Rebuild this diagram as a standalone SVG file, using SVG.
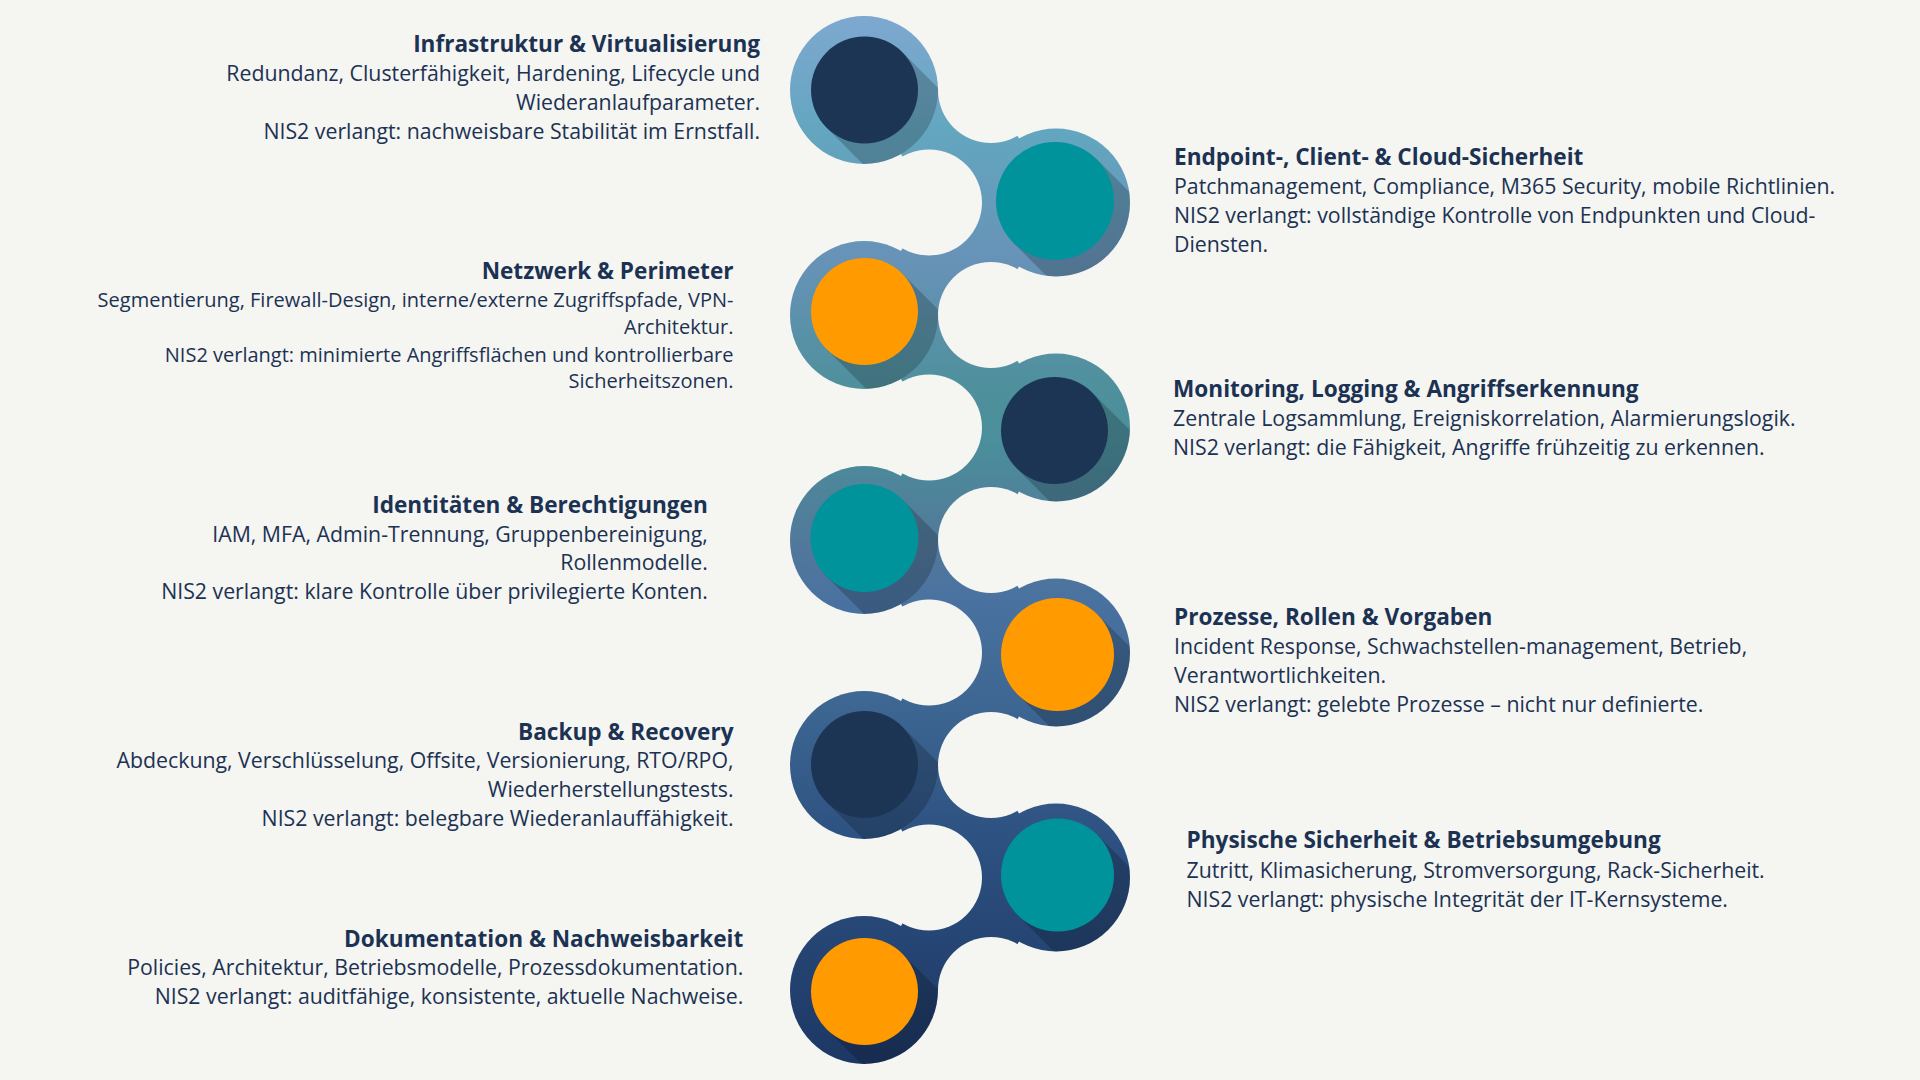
<svg xmlns="http://www.w3.org/2000/svg" width="1920" height="1080" viewBox="0 0 1920 1080">
<defs>
<style>
.t{font-family:"Open Sans","Noto Sans","Liberation Sans",sans-serif;font-weight:700;font-size:22.6px;fill:#1c3252}
.b{font-family:"Open Sans","Noto Sans","Liberation Sans",sans-serif;font-weight:400;font-size:21.3px;fill:#1c3252}
.s{font-size:20px}
.L{text-anchor:end}
.outer{fill:url(#band)}
.sh{fill:#000;fill-opacity:0.2}
.navy{fill:#1d3554}
.teal{fill:#00939c}
.orange{fill:#ff9a00}
</style>
<linearGradient id="band" gradientUnits="userSpaceOnUse" x1="0" y1="16" x2="0" y2="1064">
<stop offset="0" stop-color="#7ea8d0"/>
<stop offset="0.11" stop-color="#63a6bf"/>
<stop offset="0.235" stop-color="#6792b7"/>
<stop offset="0.357" stop-color="#4e909c"/>
<stop offset="0.405" stop-color="#4a8f9b"/>
<stop offset="0.5" stop-color="#52799a"/>
<stop offset="0.557" stop-color="#4a72a0"/>
<stop offset="0.652" stop-color="#3e6793"/>
<stop offset="0.795" stop-color="#2c5080"/>
<stop offset="1" stop-color="#1d3764"/>
</linearGradient>
<mask id="notches" maskUnits="userSpaceOnUse" x="0" y="0" width="1920" height="1080">
<rect x="0" y="0" width="1920" height="1080" fill="#fff"/>
<g fill="#000">
<circle cx="929" cy="202.5" r="53"/>
<circle cx="929" cy="427.5" r="53"/>
<circle cx="929" cy="652.5" r="53"/>
<circle cx="929" cy="877.5" r="53"/>
<circle cx="991" cy="90" r="53"/>
<circle cx="991" cy="315" r="53"/>
<circle cx="991" cy="540" r="53"/>
<circle cx="991" cy="765" r="53"/>
<circle cx="991" cy="990" r="53"/>
</g>
</mask>
<clipPath id="oc">
<circle cx="864" cy="90" r="74"/>
<circle cx="1056" cy="202.5" r="74"/>
<circle cx="864" cy="315" r="74"/>
<circle cx="1056" cy="427.5" r="74"/>
<circle cx="864" cy="540" r="74"/>
<circle cx="1056" cy="652.5" r="74"/>
<circle cx="864" cy="765" r="74"/>
<circle cx="1056" cy="877.5" r="74"/>
<circle cx="864" cy="990" r="74"/>
</clipPath>
</defs>
<rect width="1920" height="1080" fill="#f5f5f2"/>

<g id="connectors">
<path class="outer" mask="url(#notches)" d="M864,90 L991,90 L1056,202.5 L991,315 L1056,427.5 L991,540 L1056,652.5 L991,765 L1056,877.5 L991,990 L864,990 L929,877.5 L864,765 L929,652.5 L864,540 L929,427.5 L864,315 L929,202.5 Z"/>
</g>

<g id="node-1">
<circle class="outer" cx="864" cy="90" r="74"/>
<polygon class="sh" clip-path="url(#oc)" points="902.33,52.17 958.9,108.74 883.24,184.4 826.67,127.83"/>
<circle class="navy" cx="864.5" cy="90" r="53.5"/>
<text class="t L" x="760" y="52">Infrastruktur &amp; Virtualisierung</text>
<text class="b L" x="760" y="81">Redundanz, Clusterfähigkeit, Hardening, Lifecycle und</text>
<text class="b L" x="760" y="110">Wiederanlaufparameter.</text>
<text class="b L" x="760" y="138.5">NIS2 verlangt: nachweisbare Stabilität im Ernstfall.</text>
</g>

<g id="node-2">
<circle class="outer" cx="1056" cy="202.5" r="74"/>
<polygon class="sh" clip-path="url(#oc)" points="1096.72,159.28 1153.29,215.85 1069.85,299.29 1013.28,242.72"/>
<circle class="teal" cx="1055" cy="201" r="59"/>
<text class="t" x="1174" y="165">Endpoint-, Client- &amp; Cloud-Sicherheit</text>
<text class="b" x="1174" y="194">Patchmanagement, Compliance, M365 Security, mobile Richtlinien.</text>
<text class="b" x="1174" y="222.7">NIS2 verlangt: vollständige Kontrolle von Endpunkten und Cloud-</text>
<text class="b" x="1174" y="251.7">Diensten.</text>
</g>

<g id="node-3">
<circle class="outer" cx="864" cy="315" r="74"/>
<polygon class="sh" clip-path="url(#oc)" points="902.33,273.67 958.9,330.24 883.24,405.9 826.67,349.33"/>
<circle class="orange" cx="864.5" cy="311.5" r="53.5"/>
<text class="t L" x="733.5" y="279.3">Netzwerk &amp; Perimeter</text>
<text class="b s L" x="733.5" y="307.3">Segmentierung, Firewall-Design, interne/externe Zugriffspfade, VPN-</text>
<text class="b s L" x="733.5" y="334">Architektur.</text>
<text class="b s L" x="733.5" y="361.7">NIS2 verlangt: minimierte Angriffsflächen und kontrollierbare</text>
<text class="b s L" x="733.5" y="387.7">Sicherheitszonen.</text>
</g>

<g id="node-4">
<circle class="outer" cx="1056" cy="427.5" r="74"/>
<polygon class="sh" clip-path="url(#oc)" points="1092.33,392.67 1148.9,449.24 1073.24,524.9 1016.67,468.33"/>
<circle class="navy" cx="1054.5" cy="430.5" r="53.5"/>
<text class="t" x="1173" y="396.7">Monitoring, Logging &amp; Angriffserkennung</text>
<text class="b" x="1173" y="426">Zentrale Logsammlung, Ereigniskorrelation, Alarmierungslogik.</text>
<text class="b" x="1173" y="455">NIS2 verlangt: die Fähigkeit, Angriffe frühzeitig zu erkennen.</text>
</g>

<g id="node-5">
<circle class="outer" cx="864" cy="540" r="74"/>
<polygon class="sh" clip-path="url(#oc)" points="902.68,499.82 959.25,556.39 882.89,632.75 826.32,576.18"/>
<circle class="teal" cx="864.5" cy="538" r="54"/>
<text class="t L" x="707.8" y="512.7">Identitäten &amp; Berechtigungen</text>
<text class="b L" x="707.8" y="541.7">IAM, MFA, Admin-Trennung, Gruppenbereinigung,</text>
<text class="b L" x="707.8" y="570">Rollenmodelle.</text>
<text class="b L" x="707.8" y="599.3">NIS2 verlangt: klare Kontrolle über privilegierte Konten.</text>
</g>

<g id="node-6">
<circle class="outer" cx="1056" cy="652.5" r="74"/>
<polygon class="sh" clip-path="url(#oc)" points="1097.45,614.55 1154.02,671.12 1074.12,751.02 1017.55,694.45"/>
<circle class="orange" cx="1057.5" cy="654.5" r="56.5"/>
<text class="t" x="1174" y="625">Prozesse, Rollen &amp; Vorgaben</text>
<text class="b" x="1174" y="654">Incident Response, Schwachstellen-management, Betrieb,</text>
<text class="b" x="1174" y="683.3">Verantwortlichkeiten.</text>
<text class="b" x="1174" y="711.7">NIS2 verlangt: gelebte Prozesse – nicht nur definierte.</text>
</g>

<g id="node-7">
<circle class="outer" cx="864" cy="765" r="74"/>
<polygon class="sh" clip-path="url(#oc)" points="902.33,726.67 958.9,783.24 883.24,858.9 826.67,802.33"/>
<circle class="navy" cx="864.5" cy="764.5" r="53.5"/>
<text class="t L" x="733.5" y="740">Backup &amp; Recovery</text>
<text class="b L" x="733.5" y="768.3">Abdeckung, Verschlüsselung, Offsite, Versionierung, RTO/RPO,</text>
<text class="b L" x="733.5" y="797.3">Wiederherstellungstests.</text>
<text class="b L" x="733.5" y="826">NIS2 verlangt: belegbare Wiederanlauffähigkeit.</text>
</g>

<g id="node-8">
<circle class="outer" cx="1056" cy="877.5" r="74"/>
<polygon class="sh" clip-path="url(#oc)" points="1097.45,835.05 1154.02,891.62 1074.12,971.52 1017.55,914.95"/>
<circle class="teal" cx="1057.5" cy="875" r="56.5"/>
<text class="t" x="1186.5" y="848.3">Physische Sicherheit &amp; Betriebsumgebung</text>
<text class="b" x="1186.5" y="877.7">Zutritt, Klimasicherung, Stromversorgung, Rack-Sicherheit.</text>
<text class="b" x="1186.5" y="906.7">NIS2 verlangt: physische Integrität der IT-Kernsysteme.</text>
</g>

<g id="node-9">
<circle class="outer" cx="864" cy="990" r="74"/>
<polygon class="sh" clip-path="url(#oc)" points="902.33,953.67 958.9,1010.24 883.24,1085.9 826.67,1029.33"/>
<circle class="orange" cx="864.5" cy="991.5" r="53.5"/>
<text class="t L" x="743.3" y="946.7">Dokumentation &amp; Nachweisbarkeit</text>
<text class="b L" x="743.3" y="975">Policies, Architektur, Betriebsmodelle, Prozessdokumentation.</text>
<text class="b L" x="743.3" y="1004">NIS2 verlangt: auditfähige, konsistente, aktuelle Nachweise.</text>
</g>
</svg>
